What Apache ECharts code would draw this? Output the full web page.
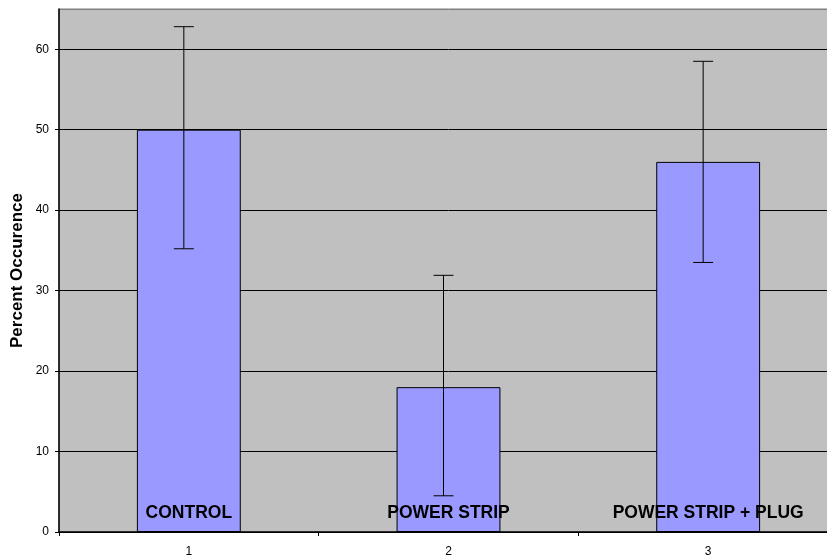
<!DOCTYPE html>
<html>
<head>
<meta charset="utf-8">
<script src="https://cdn.jsdelivr.net/npm/echarts@6/dist/echarts.min.js"></script>
<style>
html,body{margin:0;padding:0;background:#fff;overflow:hidden;width:827px;height:559px;}
#chart{width:838px;height:559px;}
</style>
</head>
<body>
<div id="chart"></div>
<script>
var categories = ['1', '2', '3'];
var barNames = ['CONTROL', 'POWER STRIP', 'POWER STRIP + PLUG'];
var values = [50, 18, 46];
var errLow = [35.2, 4.5, 33.5];
var errHigh = [62.8, 31.9, 58.5];
var yTicks = [0, 10, 20, 30, 40, 50, 60];

var FONT = '"Liberation Sans", Arial, sans-serif';
var chart = echarts.init(document.getElementById('chart'));

var errData = categories.map(function (c, i) { return [i, errLow[i], errHigh[i]]; });

chart.setOption({
  animation: false,
  backgroundColor: '#ffffff',
  grid: {
    left: 59, top: 9, bottom: 27, right: 0,
    show: true, backgroundColor: '#C0C0C0', borderColor: '#808080', borderWidth: 1
  },
  xAxis: {
    type: 'category',
    data: categories,
    axisLine: { lineStyle: { color: '#000', width: 1.5 } },
    axisTick: { show: true, length: 4, lineStyle: { color: '#000' } },
    axisLabel: { color: '#000', fontSize: 12, fontFamily: FONT, margin: 14 },
    splitLine: { show: false }
  },
  yAxis: {
    type: 'value',
    min: 0, max: 65, interval: 10,
    name: 'Percent Occurence',
    nameLocation: 'middle',
    nameGap: 33,
    nameMoveOverlap: false,
    nameTextStyle: { color: '#000', fontSize: 17, fontWeight: 'bold', fontFamily: FONT },
    axisLine: { show: true, lineStyle: { color: '#000', width: 1.5 } },
    axisTick: { show: true, length: 4, lineStyle: { color: '#000' } },
    axisLabel: {
      color: '#000', fontSize: 12, fontFamily: FONT, margin: 10,
      showMaxLabel: false,
      formatter: function (v) { return yTicks.indexOf(v) >= 0 ? String(v) : ''; }
    },
    splitLine: {
      show: true,
      lineStyle: { color: ['#000', '#000', '#000', '#000', '#000', '#000', '#000', '#808080'], width: 1 }
    }
  },
  series: [
    {
      type: 'bar',
      data: values,
      barWidth: '40%',
      itemStyle: { color: '#9999FF', borderColor: '#000', borderWidth: 1 },
      label: {
        show: true,
        position: 'insideBottom',
        distance: 10,
        formatter: function (p) { return barNames[p.dataIndex]; },
        color: '#000', fontSize: 17.5, fontWeight: 'bold', fontFamily: FONT
      },
      z: 2
    },
    {
      type: 'custom',
      data: errData,
      z: 5,
      renderItem: function (params, api) {
        var i = api.value(0);
        var lo = api.coord([i, api.value(1)]);
        var hi = api.coord([i, api.value(2)]);
        var x = lo[0] - 5;
        var cap = 10;
        var st = { stroke: '#000', lineWidth: 1 };
        return {
          type: 'group',
          children: [
            { type: 'line', shape: { x1: x, y1: lo[1], x2: x, y2: hi[1] }, style: st },
            { type: 'line', shape: { x1: x - cap, y1: hi[1], x2: x + cap, y2: hi[1] }, style: st },
            { type: 'line', shape: { x1: x - cap, y1: lo[1], x2: x + cap, y2: lo[1] }, style: st }
          ]
        };
      }
    }
  ]
});
</script>
</body>
</html>
